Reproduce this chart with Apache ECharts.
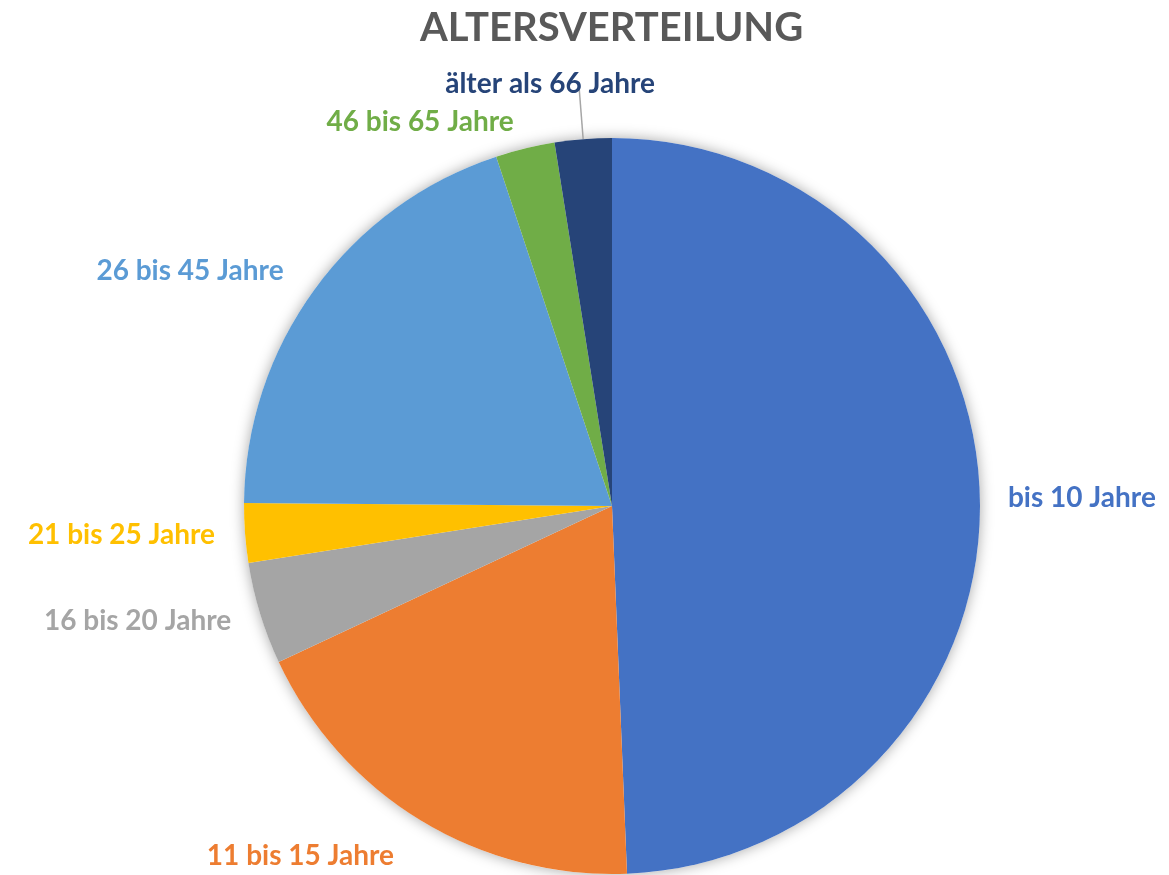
<!DOCTYPE html>
<html>
<head>
<meta charset="utf-8">
<script src="https://cdn.jsdelivr.net/npm/echarts@6/dist/echarts.min.js"></script>
<style>
    html, body { margin: 0; padding: 0; background: #fff; }
    #main { width: 1169px; height: 875px; }
</style>
</head>
<body>
<div id="main"></div>
<script>
// Altersgruppen und Anteile (in %)
var categories = ['bis 10 Jahre', '11 bis 15 Jahre', '16 bis 20 Jahre', '21 bis 25 Jahre',
    '26 bis 45 Jahre', '46 bis 65 Jahre', 'älter als 66 Jahre'];
var shares = [49.4, 18.7, 4.5, 2.6, 19.8, 2.6, 2.5];
var colors = ['#4472C4', '#ED7D31', '#A5A5A5', '#FFC000', '#5B9BD5', '#70AD47', '#264478'];

var myChart = echarts.init(document.getElementById('main'));

// Länge der Führungslinie je Segment (bestimmt, wie weit das Label vom Kreis steht)
var lineLen = [23, 42, 25, 25, 32, 27, 52];

var pieData = categories.map(function (name, i) {
    return {
        name: name,
        value: shares[i],
        itemStyle: { color: colors[i] },
        label: { color: colors[i] },
        labelLine: {
            show: i === 6,   // nur beim letzten Segment sichtbar
            length: lineLen[i],
            length2: 0
        }
    };
});

option = {
    animation: false,
    title: {
        text: 'ALTERSVERTEILUNG',
        left: 415,
        top: 3,
        textStyle: {
            fontFamily: 'Lato',
            fontWeight: 'bold',
            fontSize: 40,
            color: '#595959'
        }
    },
    series: [
        {
            // nur für den Schatten hinter dem Kreis
            type: 'pie',
            center: [612, 506],
            radius: 368,
            silent: true,
            z: 1,
            label: { show: false },
            labelLine: { show: false },
            itemStyle: {
                color: '#ffffff',
                shadowBlur: 14,
                shadowColor: 'rgba(0,0,0,0.35)'
            },
            data: [1]
        },
        {
            name: 'Altersverteilung',
            type: 'pie',
            center: [612, 506],
            radius: 368,
            startAngle: 90,
            clockwise: true,
            z: 2,
            avoidLabelOverlap: false,
            itemStyle: { borderWidth: 0 },
            label: {
                show: true,
                position: 'outside',
                formatter: '{b}',
                fontFamily: 'Lato',
                fontWeight: 'bold',
                fontSize: 28
            },
            labelLine: {
                lineStyle: { color: '#a6a6a6', width: 1.5 }
            },
            labelLayout: function (params) {
                if (params.dataIndex === 6) {
                    return { align: 'center', dx: -24, dy: -3 };
                }
            },
            data: pieData
        }
    ]
};

myChart.setOption(option);
</script>
</body>
</html>
